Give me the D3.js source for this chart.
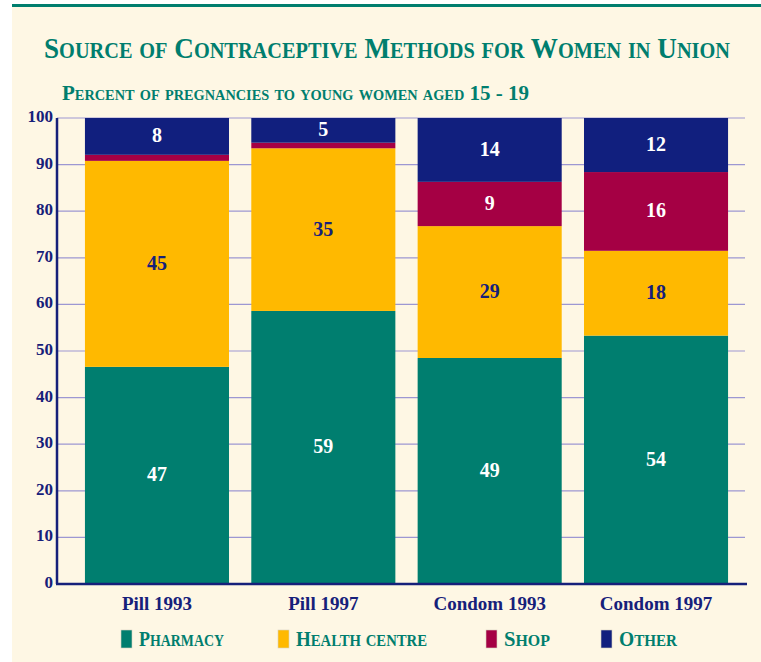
<!DOCTYPE html>
<html>
<head>
<meta charset="utf-8">
<script src="https://cdn.jsdelivr.net/npm/d3@7"></script>
<style>
  body { margin: 0; background: #fff; }
  svg { display: block; }
</style>
</head>
<body>
<script>
// data (percent)
var categories = ["Pill 1993", "Pill 1997", "Condom 1993", "Condom 1997"];
var seriesNames = ["Pharmacy", "Health centre", "Shop", "Other"];
var pharmacy = [46.6, 58.6, 48.5, 53.3];
var healthCentre = [44.2, 34.9, 28.3, 18.2];
var shop = [1.3, 1.2, 9.5, 16.9];
var other = [7.9, 5.3, 13.7, 11.6];
// printed labels (null = not printed)
var pharmacyLabels = ["47", "59", "49", "54"];
var healthLabels = ["45", "35", "29", "18"];
var shopLabels = [null, null, "9", "16"];
var otherLabels = ["8", "5", "14", "12"];
var yTicks = [0, 10, 20, 30, 40, 50, 60, 70, 80, 90, 100];

var colors = ["#007e6f", "#ffb900", "#a50044", "#111f7e"];
var labelColors = ["#fff", "#16207a", "#fff", "#fff"];
var teal = "#007e6e", navy = "#16207a";

var W = 761, H = 662;
var margin = {top: 118, right: 16, bottom: 78, left: 57};
var height = H - margin.top - margin.bottom;

var svg = d3.select("body").append("svg")
    .attr("width", W)
    .attr("height", H);

// cream panel + top rule
svg.append("rect").attr("x", 12).attr("y", 6).attr("width", W - 12).attr("height", H - 6)
    .attr("fill", "#fef7e4");
svg.append("rect").attr("x", 12).attr("y", 4).attr("width", W - 12).attr("height", 3)
    .attr("fill", teal);

// small caps helper: uppercase letters big, the rest as smaller capitals
function smallCaps(sel, str, big, small) {
  var runs = [];
  for (var i = 0; i < str.length; i++) {
    var ch = str[i];
    var isBig = !(ch >= "a" && ch <= "z");
    if (runs.length && runs[runs.length - 1].big === isBig) runs[runs.length - 1].t += ch;
    else runs.push({big: isBig, t: ch});
  }
  runs.forEach(function(r) {
    sel.append("tspan")
      .style("font-size", (r.big ? big : small) + "px")
      .text(r.t.toUpperCase());
  });
}

var fontFam = "'Liberation Serif', 'DejaVu Serif', serif";

var title = svg.append("text")
    .attr("x", 44).attr("y", 58)
    .attr("fill", teal)
    .style("font-family", fontFam).style("font-weight", "bold")
    .attr("textLength", 686).attr("lengthAdjust", "spacingAndGlyphs");
smallCaps(title, "Source of Contraceptive Methods for Women in Union", 30, 22.5);

var sub = svg.append("text")
    .attr("x", 62).attr("y", 100)
    .attr("fill", teal)
    .style("font-family", fontFam).style("font-weight", "bold")
    .attr("textLength", 467).attr("lengthAdjust", "spacingAndGlyphs");
smallCaps(sub, "Percent of pregnancies to young women aged 15 - 19", 22, 15);

var g = svg.append("g")
    .attr("transform", "translate(" + margin.left + "," + margin.top + ")");

var x = d3.scaleBand().domain(categories)
    .range([0, 699]).paddingInner(0.134).paddingOuter(0.168);
var y = d3.scaleLinear().domain([0, 100]).range([height, 0]);

// gridlines
g.selectAll(".grid").data(yTicks.filter(function(d) { return d > 0; }))
  .enter().append("line")
    .attr("x1", 0).attr("x2", 688)
    .attr("y1", function(d) { return y(d); }).attr("y2", function(d) { return y(d); })
    .attr("stroke", "#9d97d2").attr("stroke-width", 1.2);

// stack
var rows = categories.map(function(c, i) {
  return {cat: c, s0: pharmacy[i], s1: healthCentre[i], s2: shop[i], s3: other[i],
          labels: [pharmacyLabels[i], healthLabels[i], shopLabels[i], otherLabels[i]]};
});
var stack = d3.stack().keys(["s0", "s1", "s2", "s3"])(rows);

var layers = g.selectAll(".layer").data(stack).enter().append("g")
    .attr("fill", function(d, i) { return colors[i]; });

layers.selectAll("rect").data(function(d) { return d; }).enter().append("rect")
    .attr("x", function(d) { return x(d.data.cat); })
    .attr("width", x.bandwidth())
    .attr("y", function(d) { return y(d[1]); })
    .attr("height", function(d) { return y(d[0]) - y(d[1]); });

layers.each(function(layer, li) {
  d3.select(this).selectAll("text").data(layer.filter(function(d) { return d.data.labels[li]; }))
    .enter().append("text")
      .attr("x", function(d) { return x(d.data.cat) + x.bandwidth() / 2; })
      .attr("y", function(d) { return (y(d[0]) + y(d[1])) / 2 - 1; })
      .attr("dy", "0.35em")
      .attr("text-anchor", "middle")
      .attr("fill", labelColors[li])
      .style("font-family", fontFam).style("font-weight", "bold").style("font-size", "20px")
      .text(function(d) { return d.data.labels[li]; });
});

// y axis
var yAxis = g.append("g").call(d3.axisLeft(y).tickValues(yTicks).tickSize(0).tickPadding(4));
yAxis.select(".domain").remove();
yAxis.selectAll("text")
    .attr("fill", navy)
    .attr("dy", "0.2em")
    .style("font-family", fontFam).style("font-weight", "bold").style("font-size", "17px");
g.append("line").attr("x1", 0).attr("x2", 0).attr("y1", 0).attr("y2", height)
    .attr("stroke", navy).attr("stroke-width", 2.5);

// x axis
var xAxis = g.append("g").attr("transform", "translate(0," + height + ")")
    .call(d3.axisBottom(x).tickSize(0).tickPadding(13));
xAxis.select(".domain").remove();
xAxis.selectAll("text")
    .attr("fill", navy)
    .style("font-family", fontFam).style("font-weight", "bold").style("font-size", "19px");
g.append("line").attr("x1", -1).attr("x2", 690).attr("y1", height).attr("y2", height)
    .attr("stroke", navy).attr("stroke-width", 2.5);

// legend
var legendX = [121, 278, 486, 601];
var legendW = [85, 131, 46, 58];
var leg = svg.append("g").selectAll("g").data(seriesNames).enter().append("g")
    .attr("transform", function(d, i) { return "translate(" + legendX[i] + ",630)"; });
leg.append("rect").attr("width", 11).attr("height", 18)
    .attr("fill", function(d, i) { return colors[i]; })
    .attr("stroke", "#d8d2c0").attr("stroke-width", 0.6);
leg.each(function(d, i) {
  var t = d3.select(this).append("text")
      .attr("x", 18).attr("y", 15.5)
      .attr("fill", teal)
      .style("font-family", fontFam).style("font-weight", "bold")
      .attr("textLength", legendW[i]).attr("lengthAdjust", "spacingAndGlyphs");
  smallCaps(t, d, 22, 17);
});
</script>
</body>
</html>
